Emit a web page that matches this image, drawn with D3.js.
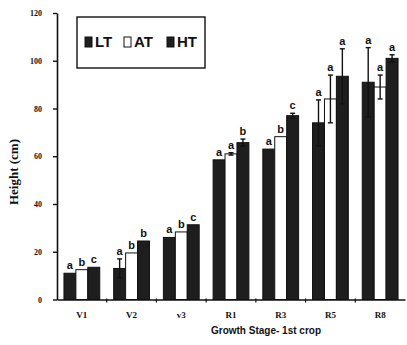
<!DOCTYPE html>
<html>
<head>
<meta charset="utf-8">
<script src="https://cdn.jsdelivr.net/npm/d3@7"></script>
<style>
  html, body { margin: 0; padding: 0; background: #fff; }
  svg { display: block; }
</style>
</head>
<body>
<svg id="chart" width="407" height="345"></svg>
<script>
// Plant height by growth stage (1st crop) for three treatments
const stages = ["V1", "V2", "v3", "R1", "R3", "R5", "R8"];
const treatments = ["LT", "AT", "HT"];

const heightLT = [11, 13, 26, 58.5, 63, 74, 91];
const heightAT = [12.5, 19.5, 28.3, 61, 68.2, 84, 89];
const heightHT = [13.5, 24.5, 31.3, 65.7, 77, 93.5, 101];

const errLT = [0, 4, 0, 0, 0, 9.6, 14.5];
const errAT = [0, 0, 0, 0.5, 0, 10, 5];
const errHT = [0, 0, 0, 1.5, 1, 11.5, 1.5];

const lettersLT = ["a", "a", "a", "a", "a", "a", "a"];
const lettersAT = ["b", "b", "b", "a", "b", "a", "a"];
const lettersHT = ["c", "b", "c", "b", "c", "a", "a"];

const yTicks = [0, 20, 40, 60, 80, 100, 120];

const rows = stages.map((s, i) => ({
  stage: s,
  values: [
    { t: "LT", v: heightLT[i], e: errLT[i], l: lettersLT[i] },
    { t: "AT", v: heightAT[i], e: errAT[i], l: lettersAT[i] },
    { t: "HT", v: heightHT[i], e: errHT[i], l: lettersHT[i] }
  ]
}));

const fill = { LT: "#1e1e1e", AT: "#ffffff", HT: "#1e1e1e" };

const svg = d3.select("#chart");
const axisX = 57, axisRight = 405;

const y = d3.scaleLinear().domain([0, 120]).range([299.5, 13]);
const x0 = d3.scaleBand().domain(stages).range([axisX, axisRight])
  .paddingInner(0.28).paddingOuter(0.14);
const x1 = d3.scaleBand().domain(treatments).range([0, x0.bandwidth()]);

// bars
const groups = svg.append("g").selectAll("g").data(rows).join("g")
  .attr("transform", d => `translate(${x0(d.stage)},0)`);

groups.selectAll("rect").data(d => d.values).join("rect")
  .attr("x", d => x1(d.t))
  .attr("y", d => y(d.v))
  .attr("width", x1.bandwidth())
  .attr("height", d => y(0) - y(d.v))
  .attr("fill", d => fill[d.t])
  .attr("stroke", "#111")
  .attr("stroke-width", 1);

// error bars (only where a spread was recorded)
const eb = groups.selectAll("g.err").data(d => d.values.filter(v => v.e > 0)).join("g")
  .attr("class", "err")
  .attr("stroke", "#111").attr("stroke-width", 1.4);
const cx = d => x1(d.t) + x1.bandwidth() / 2;
eb.append("line")
  .attr("x1", cx).attr("x2", cx)
  .attr("y1", d => y(d.v + d.e))
  .attr("y2", d => y(d.v - d.e));
eb.append("line")
  .attr("x1", d => cx(d) - 2.5).attr("x2", d => cx(d) + 2.5)
  .attr("y1", d => y(d.v + d.e)).attr("y2", d => y(d.v + d.e));
eb.append("line")
  .attr("x1", d => cx(d) - 2.5).attr("x2", d => cx(d) + 2.5)
  .attr("y1", d => y(d.v - d.e)).attr("y2", d => y(d.v - d.e));

// significance letters
groups.selectAll("text.sig").data(d => d.values).join("text").attr("class", "sig")
  .attr("x", cx)
  .attr("y", d => y(d.v + d.e) - 4)
  .attr("text-anchor", "middle")
  .attr("font-family", "Liberation Sans, Arial, sans-serif")
  .attr("font-weight", "bold")
  .attr("font-size", 11)
  .attr("fill", "#111")
  .text(d => d.l);

// y axis
const yAxis = svg.append("g").attr("transform", `translate(${axisX},0)`)
  .call(d3.axisLeft(y).tickValues(yTicks).tickSize(4).tickPadding(11).tickSizeOuter(0));
yAxis.select(".domain").attr("stroke", "#111").attr("stroke-width", 1.6);
yAxis.selectAll(".tick line").attr("stroke", "#111").attr("stroke-width", 1.4);
yAxis.selectAll(".tick text")
  .attr("font-family", "Liberation Serif, serif")
  .attr("font-weight", "bold")
  .attr("font-size", 8)
  .attr("fill", "#111");

// x axis
const xAxis = svg.append("g").attr("transform", `translate(0,${y(0)})`)
  .call(d3.axisBottom(x0).tickSize(0).tickPadding(12).tickSizeOuter(0));
xAxis.select(".domain").attr("stroke", "#111").attr("stroke-width", 1.6);
xAxis.selectAll(".tick text")
  .attr("font-family", "Liberation Serif, serif")
  .attr("font-weight", "bold")
  .attr("font-size", 9)
  .attr("fill", "#111");
// small marks between stage groups
svg.append("g").selectAll("line").data(stages.slice(1)).join("line")
  .attr("x1", d => x0(d) - x0.step() * x0.paddingInner() / 2)
  .attr("x2", d => x0(d) - x0.step() * x0.paddingInner() / 2)
  .attr("y1", y(0) - 1)
  .attr("y2", y(0) + 3)
  .attr("stroke", "#111").attr("stroke-width", 1.2);

// axis titles
svg.append("text")
  .attr("transform", "translate(18,172) rotate(-90)")
  .attr("text-anchor", "middle")
  .attr("font-family", "Liberation Serif, serif")
  .attr("font-weight", "bold")
  .attr("font-size", 13)
  .attr("fill", "#111")
  .text("Height (cm)");

svg.append("text")
  .attr("x", 266).attr("y", 334)
  .attr("text-anchor", "middle")
  .attr("font-family", "Liberation Sans, Arial, sans-serif")
  .attr("font-weight", "bold")
  .attr("font-size", 10)
  .attr("fill", "#111")
  .text("Growth Stage- 1st crop");

// legend
const legend = svg.append("g");
legend.append("rect")
  .attr("x", 77).attr("y", 17).attr("width", 128).attr("height", 51)
  .attr("fill", "#fff").attr("stroke", "#111").attr("stroke-width", 1.4);
const legendX = [85, 124, 167];
const items = legend.selectAll("g.item").data(treatments).join("g").attr("class", "item")
  .attr("transform", (d, i) => `translate(${legendX[i]},37)`);
items.append("rect")
  .attr("width", 7).attr("height", 10)
  .attr("fill", d => fill[d]).attr("stroke", "#111").attr("stroke-width", 1);
items.append("text")
  .attr("x", 10).attr("y", 10)
  .attr("font-family", "Liberation Sans Narrow, Liberation Sans, Arial, sans-serif")
  .attr("font-weight", "bold")
  .attr("font-size", 15)
  .attr("fill", "#111")
  .text(d => d);
</script>
</body>
</html>
